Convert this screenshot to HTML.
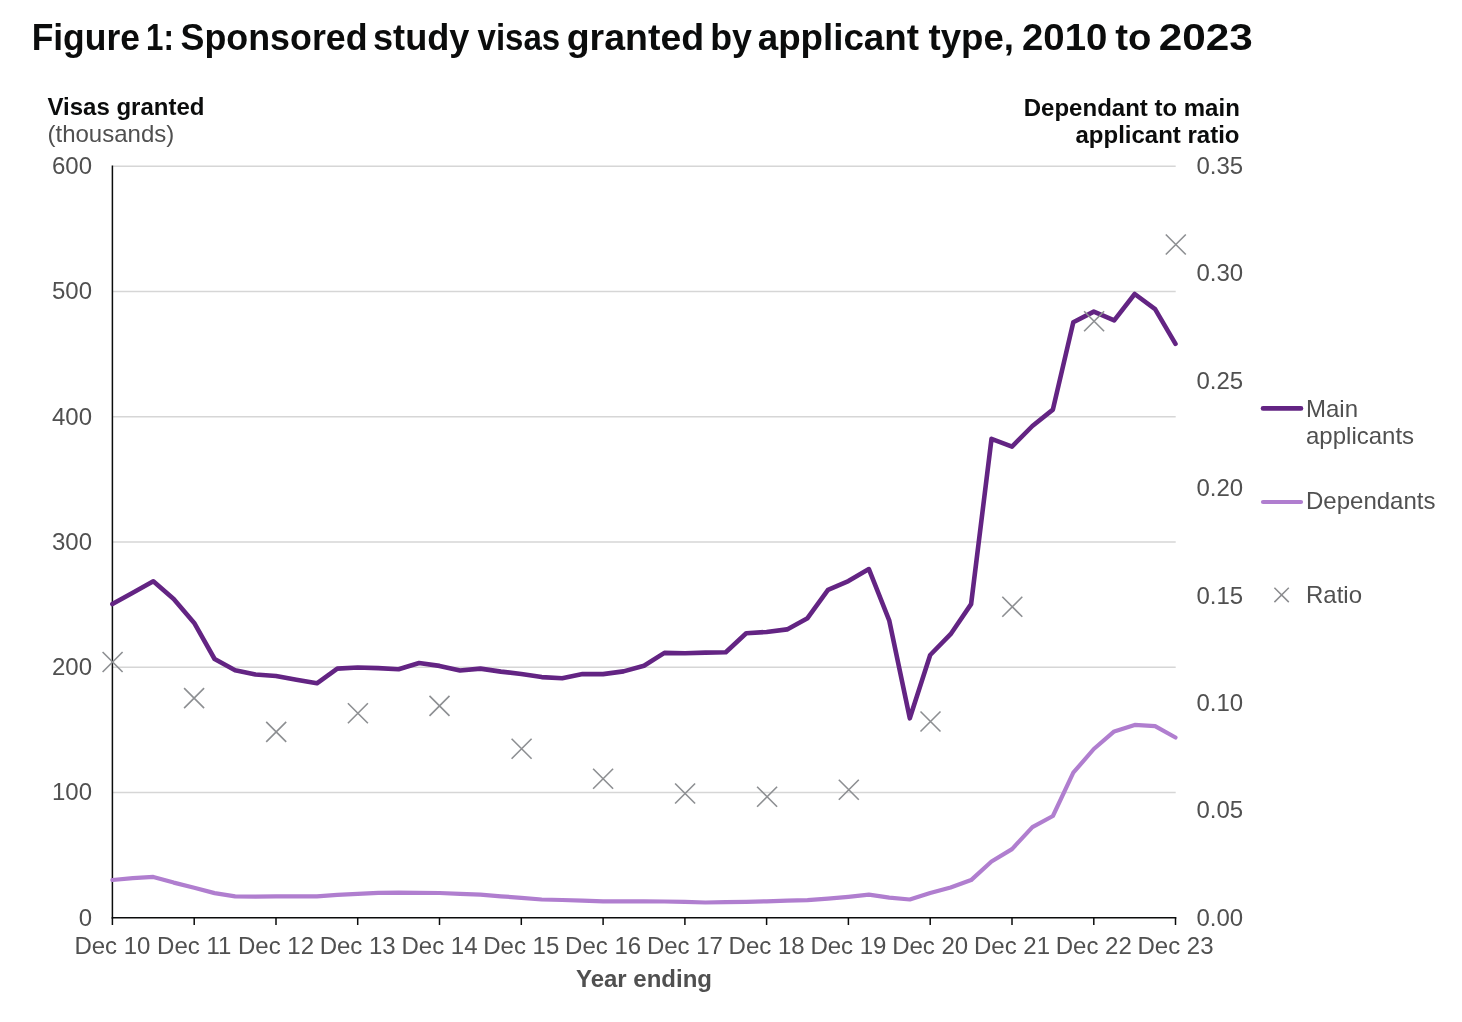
<!DOCTYPE html>
<html><head><meta charset="utf-8"><title>Figure 1</title>
<style>
html,body{margin:0;padding:0;background:#fff;}
body{width:1462px;height:1022px;overflow:hidden;}
svg{display:block;will-change:transform;}
text{font-family:"Liberation Sans",sans-serif;}
.tk{font-size:24px;fill:#505050;}
.lg{font-size:24px;fill:#505050;}
.bt{font-size:24px;font-weight:bold;fill:#0b0c0c;}
.title{font-size:36px;font-weight:bold;fill:#0b0c0c;}
</style></head>
<body>
<svg width="1462" height="1022" viewBox="0 0 1462 1022">
<line x1="112.4" y1="792.5" x2="1175.7" y2="792.5" stroke="#d6d6d6" stroke-width="1.5"/>
<line x1="112.4" y1="667.3" x2="1175.7" y2="667.3" stroke="#d6d6d6" stroke-width="1.5"/>
<line x1="112.4" y1="542.0" x2="1175.7" y2="542.0" stroke="#d6d6d6" stroke-width="1.5"/>
<line x1="112.4" y1="416.7" x2="1175.7" y2="416.7" stroke="#d6d6d6" stroke-width="1.5"/>
<line x1="112.4" y1="291.5" x2="1175.7" y2="291.5" stroke="#d6d6d6" stroke-width="1.5"/>
<line x1="112.4" y1="166.2" x2="1175.7" y2="166.2" stroke="#d6d6d6" stroke-width="1.5"/>
<line x1="112.4" y1="917.8" x2="112.4" y2="925" stroke="#0b0c0c" stroke-width="1.5"/>
<line x1="194.2" y1="917.8" x2="194.2" y2="925" stroke="#0b0c0c" stroke-width="1.5"/>
<line x1="276.0" y1="917.8" x2="276.0" y2="925" stroke="#0b0c0c" stroke-width="1.5"/>
<line x1="357.7" y1="917.8" x2="357.7" y2="925" stroke="#0b0c0c" stroke-width="1.5"/>
<line x1="439.5" y1="917.8" x2="439.5" y2="925" stroke="#0b0c0c" stroke-width="1.5"/>
<line x1="521.3" y1="917.8" x2="521.3" y2="925" stroke="#0b0c0c" stroke-width="1.5"/>
<line x1="603.1" y1="917.8" x2="603.1" y2="925" stroke="#0b0c0c" stroke-width="1.5"/>
<line x1="684.9" y1="917.8" x2="684.9" y2="925" stroke="#0b0c0c" stroke-width="1.5"/>
<line x1="766.6" y1="917.8" x2="766.6" y2="925" stroke="#0b0c0c" stroke-width="1.5"/>
<line x1="848.4" y1="917.8" x2="848.4" y2="925" stroke="#0b0c0c" stroke-width="1.5"/>
<line x1="930.2" y1="917.8" x2="930.2" y2="925" stroke="#0b0c0c" stroke-width="1.5"/>
<line x1="1012.0" y1="917.8" x2="1012.0" y2="925" stroke="#0b0c0c" stroke-width="1.5"/>
<line x1="1093.8" y1="917.8" x2="1093.8" y2="925" stroke="#0b0c0c" stroke-width="1.5"/>
<line x1="1175.5" y1="917.8" x2="1175.5" y2="925" stroke="#0b0c0c" stroke-width="1.5"/>
<line x1="112.4" y1="165.5" x2="112.4" y2="918.5" stroke="#0b0c0c" stroke-width="1.5"/>
<line x1="111.7" y1="917.8" x2="1176.4" y2="917.8" stroke="#0b0c0c" stroke-width="1.5"/>
<polyline points="112.4,880.0 132.8,878.1 153.3,876.9 173.7,882.6 194.2,887.8 214.6,893.1 235.1,896.4 255.5,896.7 276.0,896.3 296.4,896.4 316.9,896.4 337.3,894.8 357.7,893.8 378.2,892.9 398.6,892.6 419.1,892.9 439.5,893.0 460.0,893.8 480.4,894.7 500.9,896.3 521.3,897.8 541.7,899.5 562.2,900.0 582.6,900.7 603.1,901.3 623.5,901.3 644.0,901.3 664.4,901.5 684.9,901.9 705.3,902.5 725.8,902.2 746.2,901.9 766.6,901.3 787.1,900.7 807.5,900.1 828.0,898.6 848.4,896.8 868.9,894.7 889.3,897.6 909.8,899.5 930.2,893.0 950.6,887.5 971.1,880.1 991.5,861.5 1012.0,849.1 1032.4,827.1 1052.9,816.0 1073.3,772.7 1093.8,749.0 1114.2,731.4 1134.7,724.9 1155.1,726.2 1175.5,737.5" fill="none" stroke="#b07ecf" stroke-width="4.2" stroke-linejoin="round" stroke-linecap="round"/>
<polyline points="112.4,604.1 132.8,592.8 153.3,581.3 173.7,598.9 194.2,622.9 214.6,659.0 235.1,670.3 255.5,674.5 276.0,676.0 296.4,679.7 316.9,683.3 337.3,668.6 357.7,667.5 378.2,668.1 398.6,669.3 419.1,663.0 439.5,665.9 460.0,670.5 480.4,668.6 500.9,671.6 521.3,674.0 541.7,677.1 562.2,678.2 582.6,674.1 603.1,674.1 623.5,671.4 644.0,665.7 664.4,652.9 684.9,653.3 705.3,652.6 725.8,652.3 746.2,633.2 766.6,632.0 787.1,629.4 807.5,618.2 828.0,589.9 848.4,581.1 868.9,569.1 889.3,620.7 909.8,718.3 930.2,655.0 950.6,634.2 971.1,604.1 991.5,438.9 1012.0,446.6 1032.4,426.0 1052.9,409.6 1073.3,322.2 1093.8,311.6 1114.2,320.3 1134.7,294.0 1155.1,309.1 1175.5,343.8" fill="none" stroke="#632483" stroke-width="4.6" stroke-linejoin="round" stroke-linecap="round"/>
<path d="M102.6 652.0L122.6 672.0M122.6 652.0L102.6 672.0" stroke="#8d8f92" stroke-width="1.6" fill="none"/>
<path d="M184.1 688.1L204.1 708.1M204.1 688.1L184.1 708.1" stroke="#8d8f92" stroke-width="1.6" fill="none"/>
<path d="M266.2 721.9L286.2 741.9M286.2 721.9L266.2 741.9" stroke="#8d8f92" stroke-width="1.6" fill="none"/>
<path d="M347.9 703.2L367.9 723.2M367.9 703.2L347.9 723.2" stroke="#8d8f92" stroke-width="1.6" fill="none"/>
<path d="M429.5 695.9L449.5 715.9M449.5 695.9L429.5 715.9" stroke="#8d8f92" stroke-width="1.6" fill="none"/>
<path d="M511.6 738.7L531.6 758.7M531.6 738.7L511.6 758.7" stroke="#8d8f92" stroke-width="1.6" fill="none"/>
<path d="M593.1 768.8L613.1 788.8M613.1 768.8L593.1 788.8" stroke="#8d8f92" stroke-width="1.6" fill="none"/>
<path d="M675.1 783.5L695.1 803.5M695.1 783.5L675.1 803.5" stroke="#8d8f92" stroke-width="1.6" fill="none"/>
<path d="M757.1 786.8L777.1 806.8M777.1 786.8L757.1 806.8" stroke="#8d8f92" stroke-width="1.6" fill="none"/>
<path d="M838.8 779.7L858.8 799.7M858.8 779.7L838.8 799.7" stroke="#8d8f92" stroke-width="1.6" fill="none"/>
<path d="M920.5 711.5L940.5 731.5M940.5 711.5L920.5 731.5" stroke="#8d8f92" stroke-width="1.6" fill="none"/>
<path d="M1002.3 596.8L1022.3 616.8M1022.3 596.8L1002.3 616.8" stroke="#8d8f92" stroke-width="1.6" fill="none"/>
<path d="M1084.1 311.2L1104.1 331.2M1104.1 311.2L1084.1 331.2" stroke="#8d8f92" stroke-width="1.6" fill="none"/>
<path d="M1165.8 234.5L1185.8 254.5M1185.8 234.5L1165.8 254.5" stroke="#8d8f92" stroke-width="1.6" fill="none"/>
<line x1="1263" y1="408.4" x2="1301" y2="408.4" stroke="#632483" stroke-width="4.6" stroke-linecap="round"/>
<line x1="1263" y1="502" x2="1301" y2="502" stroke="#b07ecf" stroke-width="4.2" stroke-linecap="round"/>
<path d="M1274.4 587.7L1288.8 602.1M1288.8 587.7L1274.4 602.1" stroke="#8b8c8f" stroke-width="1.5" fill="none"/>
<g style="opacity:0.999">
<text x="92" y="925.6" text-anchor="end" class="tk">0</text>
<text x="92" y="800.3" text-anchor="end" class="tk">100</text>
<text x="92" y="675.1" text-anchor="end" class="tk">200</text>
<text x="92" y="549.8" text-anchor="end" class="tk">300</text>
<text x="92" y="424.5" text-anchor="end" class="tk">400</text>
<text x="92" y="299.3" text-anchor="end" class="tk">500</text>
<text x="92" y="174.0" text-anchor="end" class="tk">600</text>
<text x="1196.5" y="925.6" class="tk">0.00</text>
<text x="1196.5" y="818.2" class="tk">0.05</text>
<text x="1196.5" y="710.9" class="tk">0.10</text>
<text x="1196.5" y="603.5" class="tk">0.15</text>
<text x="1196.5" y="496.1" class="tk">0.20</text>
<text x="1196.5" y="388.7" class="tk">0.25</text>
<text x="1196.5" y="281.4" class="tk">0.30</text>
<text x="1196.5" y="174.0" class="tk">0.35</text>
<text x="112.4" y="954" text-anchor="middle" class="tk">Dec 10</text>
<text x="194.2" y="954" text-anchor="middle" class="tk">Dec 11</text>
<text x="276.0" y="954" text-anchor="middle" class="tk">Dec 12</text>
<text x="357.7" y="954" text-anchor="middle" class="tk">Dec 13</text>
<text x="439.5" y="954" text-anchor="middle" class="tk">Dec 14</text>
<text x="521.3" y="954" text-anchor="middle" class="tk">Dec 15</text>
<text x="603.1" y="954" text-anchor="middle" class="tk">Dec 16</text>
<text x="684.9" y="954" text-anchor="middle" class="tk">Dec 17</text>
<text x="766.6" y="954" text-anchor="middle" class="tk">Dec 18</text>
<text x="848.4" y="954" text-anchor="middle" class="tk">Dec 19</text>
<text x="930.2" y="954" text-anchor="middle" class="tk">Dec 20</text>
<text x="1012.0" y="954" text-anchor="middle" class="tk">Dec 21</text>
<text x="1093.8" y="954" text-anchor="middle" class="tk">Dec 22</text>
<text x="1175.5" y="954" text-anchor="middle" class="tk">Dec 23</text>
<text x="1306" y="416.5" class="lg">Main</text>
<text x="1306" y="443.5" class="lg">applicants</text>
<text x="1306" y="509" class="lg">Dependants</text>
<text x="1306" y="602.6" class="lg">Ratio</text>
<text x="47.5" y="114.6" class="bt">Visas granted</text>
<text x="47.5" y="141.7" class="tk">(thousands)</text>
<text x="1239.8" y="115.8" text-anchor="end" class="bt">Dependant to main</text>
<text x="1239.5" y="142.5" text-anchor="end" class="bt">applicant ratio</text>
<text x="644" y="987" text-anchor="middle" class="bt" fill="#505050" style="fill:#505050">Year ending</text>
<text x="31.63" y="49.8" class="title" textLength="108.27" lengthAdjust="spacingAndGlyphs">Figure</text>
<text x="146.06" y="49.8" class="title" textLength="27.87" lengthAdjust="spacingAndGlyphs">1:</text>
<text x="180.61" y="49.8" class="title" textLength="187.00" lengthAdjust="spacingAndGlyphs">Sponsored</text>
<text x="372.99" y="49.8" class="title" textLength="96.42" lengthAdjust="spacingAndGlyphs">study</text>
<text x="477.60" y="49.8" class="title" textLength="82.60" lengthAdjust="spacingAndGlyphs">visas</text>
<text x="566.72" y="49.8" class="title" textLength="137.38" lengthAdjust="spacingAndGlyphs">granted</text>
<text x="710.31" y="49.8" class="title" textLength="41.70" lengthAdjust="spacingAndGlyphs">by</text>
<text x="757.78" y="49.8" class="title" textLength="161.15" lengthAdjust="spacingAndGlyphs">applicant</text>
<text x="928.50" y="49.8" class="title" textLength="85.47" lengthAdjust="spacingAndGlyphs">type,</text>
<text x="1022.03" y="49.8" class="title" textLength="85.33" lengthAdjust="spacingAndGlyphs">2010</text>
<text x="1115.20" y="49.8" class="title" textLength="36.15" lengthAdjust="spacingAndGlyphs">to</text>
<text x="1158.83" y="49.8" class="title" textLength="94.06" lengthAdjust="spacingAndGlyphs">2023</text>
</g>
</svg>
</body></html>
